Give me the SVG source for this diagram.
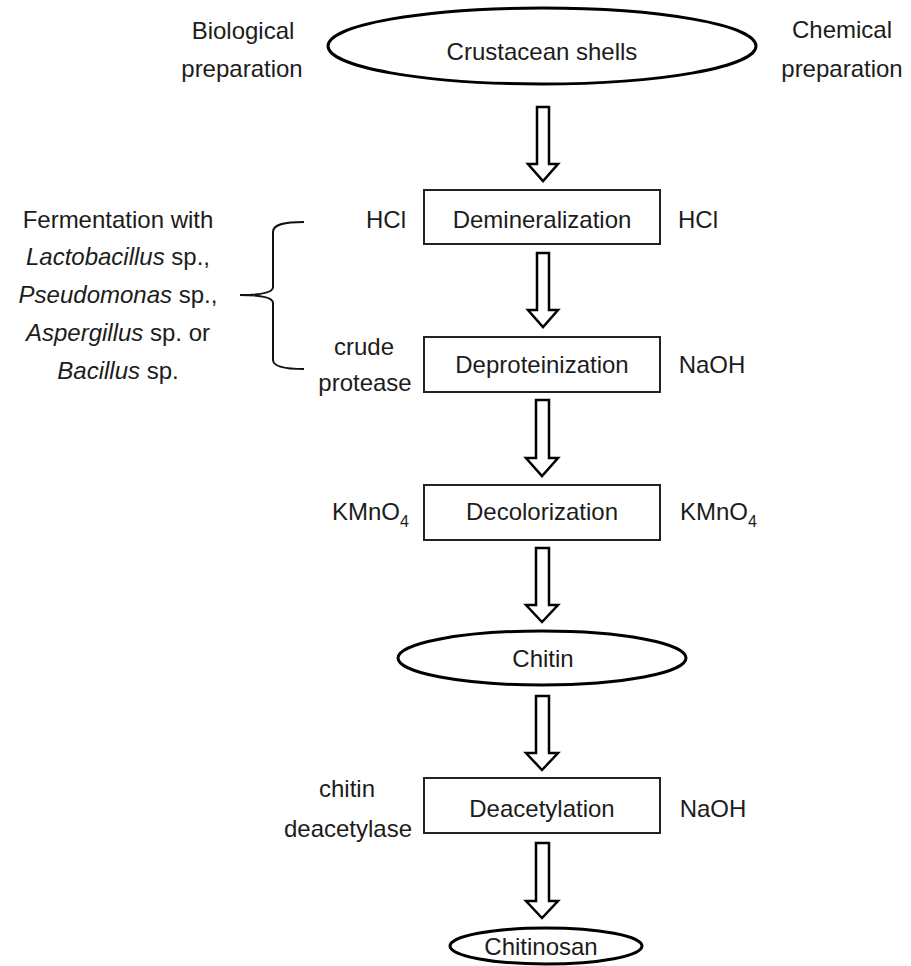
<svg xmlns="http://www.w3.org/2000/svg" width="911" height="966" viewBox="0 0 911 966">
<style>
text{font-family:"Liberation Sans",Arial,sans-serif;font-size:24px;fill:#1c1c1c}
.m{text-anchor:middle}
.e{text-anchor:end}
.ov{fill:#fff;stroke:#000;stroke-width:3}
.bx{fill:#fff;stroke:#222;stroke-width:2}
.ar{fill:#fff;stroke:#000;stroke-width:2.5;stroke-linejoin:miter}
.br{fill:none;stroke:#111;stroke-width:2}
.i{font-style:italic}
</style>
<rect width="911" height="966" fill="#fff"/>
<g id="connectors">
<polygon class="ar" points="537,107 549,107 549,164 558,164 543,181 528,164 537,164"/>
<polygon class="ar" points="537,253 549,253 549,310 558,310 543,327 528,310 537,310"/>
<polygon class="ar" points="536,400 549,400 549,458 558,458 542,476 526,458 536,458"/>
<polygon class="ar" points="536,548 549,548 549,605 558,605 542,622 526,605 536,605"/>
<polygon class="ar" points="536,696 549,696 549,753 558,753 542,770 526,753 536,753"/>
<polygon class="ar" points="536,843 549,843 549,901 558,901 542,918 526,901 536,901"/>
</g>
<g id="labels-top">
<text class="m" x="243" y="39">Biological</text>
<text class="m" x="242" y="77">preparation</text>
<text class="m" x="842" y="38">Chemical</text>
<text class="m" x="842" y="77">preparation</text>
</g>
<g id="crustacean">
<ellipse class="ov" cx="542" cy="46" rx="214" ry="38"/>
<text class="m" x="542" y="60">Crustacean shells</text>
</g>
<g id="demineralization">
<rect class="bx" x="424" y="190" width="236" height="54"/>
<text class="m" x="542" y="228">Demineralization</text>
<text class="m" x="386" y="228">HCl</text>
<text class="m" x="698" y="228">HCl</text>
</g>
<g id="deproteinization">
<rect class="bx" x="424" y="337" width="236" height="55"/>
<text class="m" x="542" y="373">Deproteinization</text>
<text class="m" x="364" y="355">crude</text>
<text class="m" x="365" y="391">protease</text>
<text class="m" x="712" y="373">NaOH</text>
</g>
<g id="decolorization">
<rect class="bx" x="424" y="485" width="236" height="55"/>
<text class="m" x="542" y="520">Decolorization</text>
<text x="332" y="520">KMnO<tspan font-size="16" dy="7">4</tspan></text>
<text x="680" y="520">KMnO<tspan font-size="16" dy="7">4</tspan></text>
</g>
<g id="chitin">
<ellipse class="ov" cx="542" cy="658" rx="144" ry="27"/>
<text class="m" x="543" y="667">Chitin</text>
</g>
<g id="deacetylation">
<rect class="bx" x="424" y="778" width="236" height="55"/>
<text class="m" x="542" y="817">Deacetylation</text>
<text class="m" x="347" y="797">chitin</text>
<text class="m" x="348" y="837">deacetylase</text>
<text class="m" x="713" y="817">NaOH</text>
</g>
<g id="chitinosan">
<ellipse class="ov" cx="546" cy="946" rx="96" ry="18"/>
<text class="m" x="541" y="955">Chitinosan</text>
</g>
<g id="fermentation">
<text class="m" x="118" y="228">Fermentation with</text>
<text class="m" x="118" y="265"><tspan class="i">Lactobacillus</tspan> sp.,</text>
<text class="m" x="118" y="303"><tspan class="i">Pseudomonas</tspan> sp.,</text>
<text class="m" x="118" y="341"><tspan class="i">Aspergillus</tspan> sp. or</text>
<text class="m" x="118" y="379"><tspan class="i">Bacillus</tspan> sp.</text>
<path class="br" d="M304,222 C285,222 273,224 273,232 L273,287 C273,292 262,295 240,295 C262,295 273,298 273,303 L273,360 C273,366 285,369 304,369"/>
</g>
</svg>
